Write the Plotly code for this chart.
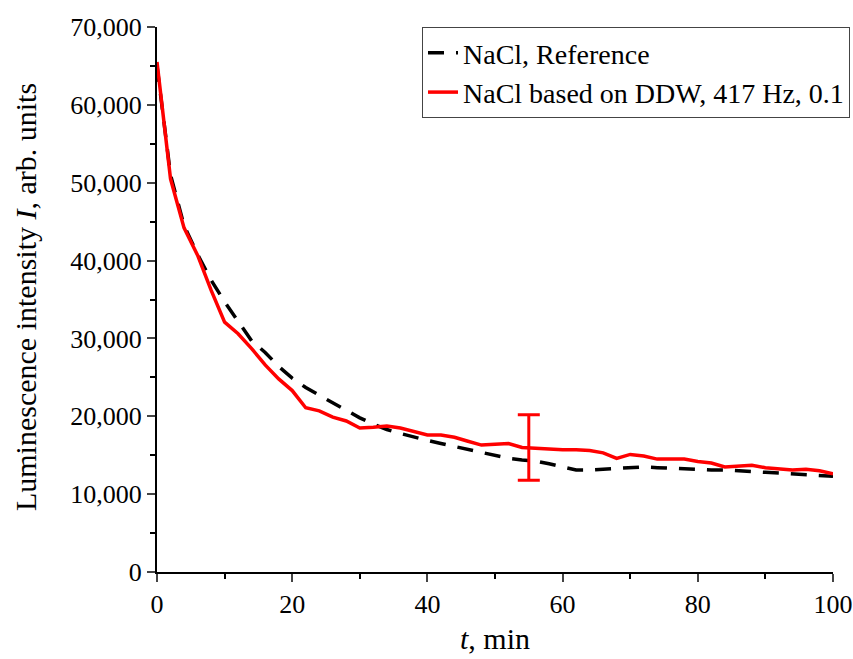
import plotly.graph_objects as go

t = list(range(0, 101, 2))
reference = [65000, 51000, 44500, 40800, 37500, 34700, 32200, 29700, 28200, 26400,
             24900, 23700, 22700, 21700, 20700, 19800, 19000, 18300, 17800, 17300,
             16900, 16500, 16100, 15700, 15300, 14900, 14600, 14400, 14250, 13900,
             13500, 13100, 13100, 13200, 13300, 13450, 13500, 13400, 13300, 13300,
             13200, 13100, 13100, 12950, 12900, 12800, 12700, 12600, 12600, 12450,
             12300]
ddw = [65500, 50500, 44200, 40700, 36200, 32100, 30600, 28700, 26600, 24800,
       23300, 21100, 20700, 19900, 19400, 18500, 18600, 18750, 18500, 18000,
       17600, 17600, 17300, 16800, 16300, 16400, 16500, 16000, 15900, 15750,
       15700, 15700, 15600, 15300, 14600, 15100, 14900, 14500, 14500, 14500,
       14200, 14000, 13500, 13600, 13700, 13400, 13200, 13100, 13200, 13000,
       12600]
err_t = [55]
err_y = [16000]
err_val = [4200]

FONT = "Liberation Serif, Times New Roman, serif"
FS = 26

# plot region: paper spans x 157..850 px; axis drawn over 157..833 px
XDOM_END = 676 / 693
XMID = XDOM_END / 2

fig = go.Figure()
fig.add_trace(go.Scatter(x=t, y=reference, mode="lines", name="NaCl, Reference",
                         line=dict(color="black", width=3.5, dash="16px,12px")))
fig.add_trace(go.Scatter(x=t, y=ddw, mode="lines", name="NaCl based on DDW, 417 Hz, 0.1",
                         line=dict(color="#ff0000", width=3.5)))
fig.add_trace(go.Scatter(x=err_t, y=err_y, mode="markers", showlegend=False,
                         marker=dict(size=1, color="#ff0000"),
                         error_y=dict(type="data", array=err_val, visible=True,
                                      color="#ff0000", thickness=3, width=11)))

fig.update_layout(
    width=853, height=659,
    margin=dict(l=157, r=3, t=27, b=87),
    paper_bgcolor="white", plot_bgcolor="white",
    font=dict(family=FONT, size=FS, color="black"),
    legend=dict(x=1.0, y=1.0, xanchor="right", yanchor="top",
                bgcolor="white", bordercolor="#444", borderwidth=1,
                font=dict(size=28), tracegroupgap=0),
    annotations=[
        dict(text="<i>t</i>, min", xref="paper", yref="paper", x=XMID, y=-0.122,
             xanchor="center", yanchor="middle", showarrow=False,
             font=dict(size=30)),
        dict(text="Luminescence intensity <i>I</i>, arb. units", xref="paper",
             yref="paper", x=-0.19, y=0.505, xanchor="center", yanchor="middle",
             textangle=-90, showarrow=False, font=dict(size=30)),
    ],
)
fig.update_xaxes(range=[0, 100], domain=[0, XDOM_END], tickvals=[0, 20, 40, 60, 80, 100],
                 ticks="outside", ticklen=8, tickwidth=2, showline=True,
                 linecolor="black", linewidth=2, showgrid=False, zeroline=False,
                 automargin=False,
                 minor=dict(tickvals=[10, 30, 50, 70, 90], ticks="outside", ticklen=5,
                            tickwidth=2, tickcolor="black"),
                 tickfont=dict(size=FS))
fig.update_yaxes(range=[0, 70000], tickvals=list(range(0, 70001, 10000)),
                 tickformat=",d", ticks="outside", ticklen=8, tickwidth=2,
                 showline=True, linecolor="black", linewidth=2, showgrid=False,
                 zeroline=False, automargin=False,
                 minor=dict(tickvals=list(range(5000, 70000, 10000)), ticks="outside",
                            ticklen=5, tickwidth=2, tickcolor="black"),
                 tickfont=dict(size=FS))

fig.write_html("out.html")
